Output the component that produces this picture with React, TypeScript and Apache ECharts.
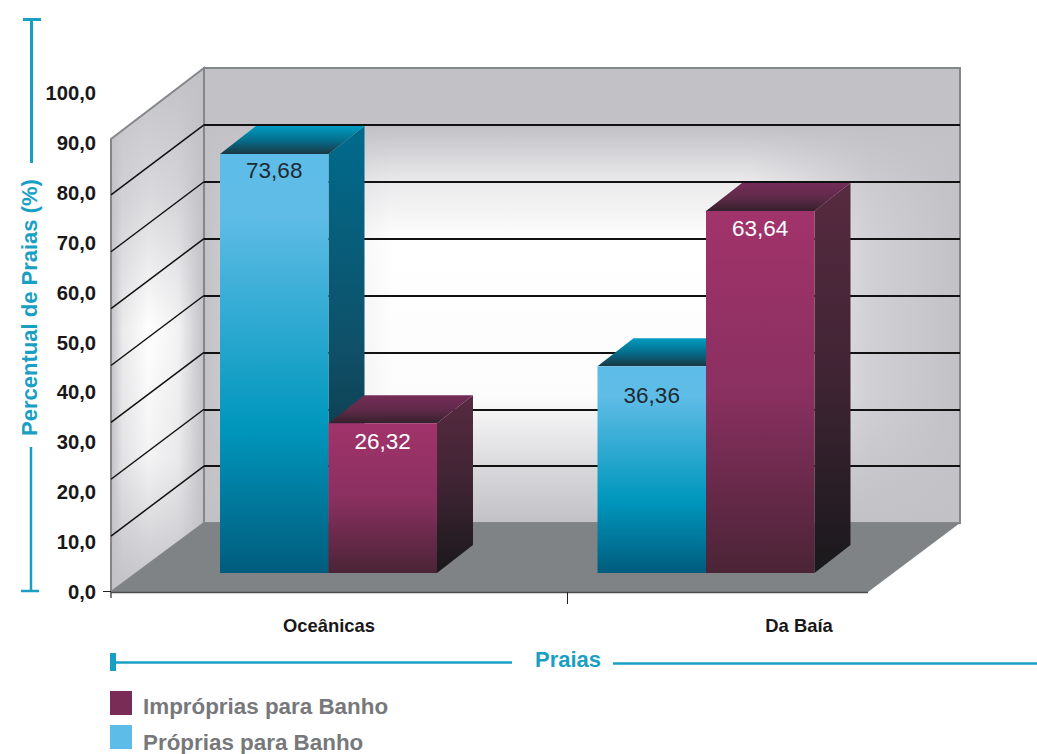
import React, { useEffect, useRef } from "react";
import * as echarts from "echarts";

const beachTypes = ["Oceânicas", "Da Baía"];
const properValues = [73.68, 36.36];
const improperValues = [26.32, 63.64];
const improperName = "Impróprias para Banho";
const properName = "Próprias para Banho";
const axisTitle = "Percentual de Praias (%)";
const xTitle = "Praias";
const wallTicks = [10, 20, 30, 40, 50, 60, 70];

const W = 1037, H = 754;
const CY = "#1a9fc4";
const DX = 36, DY = 28;
const WALL_DX = 93, WALL_DY = 70;
const FONT = "'Liberation Sans', Arial, sans-serif";

const lin = (x: number, y: number, x2: number, y2: number, stops: [number, string][]) => ({
  type: "linear", x, y, x2, y2, global: false,
  colorStops: stops.map(([offset, color]) => ({ offset, color })),
});
const V = (s: [number, string][]) => lin(0, 0, 0, 1, s);
const Hz = (s: [number, string][]) => lin(0, 0, 1, 0, s);

const bar3d = (values: number[], side: number, pal: any, labelColor: string, labelDrop: number[]) =>
  (params: any, api: any) => {
    const i = api.value(0);
    const v = api.value(1);
    const [cx, top] = api.coord([i, v]);
    const [, bottom] = api.coord([i, 0]);
    const w = api.size([1, 0])[0] * 0.2874;
    const x0 = side < 0 ? cx - w : cx;
    const x1 = x0 + w;
    return {
      type: "group",
      children: [
        { type: "polygon", shape: { points: [[x1, top], [x1 + DX, top - DY], [x1 + DX, bottom - DY], [x1, bottom]] }, style: { fill: pal.side } },
        { type: "polygon", shape: { points: [[x0, top], [x0 + DX, top - DY], [x1 + DX, top - DY], [x1, top]] }, style: { fill: pal.top } },
        { type: "rect", shape: { x: x0, y: top, width: w, height: bottom - top }, style: { fill: pal.front } },
        {
          type: "text",
          style: {
            text: values[i].toFixed(2).replace(".", ","),
            x: (x0 + x1) / 2, y: top + labelDrop[i],
            align: "center", verticalAlign: "middle",
            fill: labelColor, font: `22.5px ${FONT}`,
          },
        },
      ],
    };
  };

const bluePal = {
  front: V([[0, "#5ebde8"], [0.15, "#5ebce6"], [0.65, "#0097bd"], [1, "#005c7d"]]),
  side: V([[0, "#006b8d"], [0.5, "#0f5068"], [1, "#0c2630"]]),
  top: V([[0, "#009cc2"], [0.55, "#066a88"], [1, "#1a3843"]]),
};
const purplePal = {
  front: V([[0, "#a1336b"], [0.5, "#8a3060"], [1, "#4a2436"]]),
  side: V([[0, "#572a40"], [0.5, "#3f2434"], [1, "#19191b"]]),
  top: V([[0, "#742c58"], [0.55, "#5e2a48"], [1, "#35202b"]]),
};

const wallGray = (a: number) => `rgba(194,193,198,${a})`;
const legendText = { color: "#77787b", fontWeight: "bold", fontSize: 22.4, fontFamily: FONT };

export default function App() {
  const ref = useRef<HTMLDivElement>(null);
  useEffect(() => {
    const chart = echarts.init(ref.current!, null, { renderer: "svg" });
    const line = (x1: number, y1: number, x2: number, y2: number, stroke: string, lineWidth: number) => ({
      type: "line", shape: { x1, y1, x2, y2 }, style: { stroke, lineWidth }, z: 1, silent: true,
    });
    const leftWall = [[111, 139], [204, 68], [204, 523], [111, 592]];
    const floor = [[111, 592], [204, 523], [960, 523], [868, 592]];
    chart.setOption({
      animation: false,
      backgroundColor: "#fff",
      textStyle: { fontFamily: FONT },
      tooltip: { show: false },
      legend: {
        left: 110, top: 691, height: 150, orient: "vertical", itemWidth: 22, itemHeight: 24, itemGap: 8,
        icon: "rect", selectedMode: false,
        data: [improperName, properName],
        formatter: (n: string) => (n === improperName ? `{a|${n}}` : `{b|${n}}`),
        textStyle: {
          ...legendText,
          rich: {
            a: { ...legendText, padding: [6, 0, 0, 6] },
            b: { ...legendText, padding: [10, 0, 0, 6] },
          },
        },
        itemStyle: { borderWidth: 0 },
        padding: 0,
      },
      grid: [
        { left: 111, width: 757, top: 93, height: 499 },
        { left: 94, width: 940, top: 92, height: 500 },
        { left: 139.75, width: 755, top: 118, height: 455 },
        { left: 204, width: 756, top: 68, height: 455 },
      ],
      xAxis: [
        { gridIndex: 0, type: "value", show: false },
        {
          gridIndex: 1, type: "category", data: beachTypes,
          axisLine: { show: false }, axisTick: { show: false },
          axisLabel: { margin: 24, color: "#1a1718", fontWeight: "bold", fontSize: 18.4, fontFamily: FONT },
          name: xTitle, nameLocation: "middle", nameGap: 56,
          nameTextStyle: { color: CY, fontWeight: "bold", fontSize: 22, fontFamily: FONT, padding: [0, 0, 0, 8] },
        },
        { gridIndex: 2, type: "category", data: beachTypes, show: false },
        { gridIndex: 3, type: "value", min: 0, max: 1, show: false },
      ],
      yAxis: [
        {
          gridIndex: 0, type: "value", min: 0, max: 100, interval: 10,
          axisLine: { show: false }, axisTick: { show: false }, splitLine: { show: false },
          axisLabel: {
            margin: 15, color: "#1a1718", fontWeight: "bold", fontSize: 20.2, fontFamily: FONT,
            formatter: (v: number) => v.toFixed(1).replace(".", ","),
          },
          name: axisTitle, nameLocation: "middle", nameGap: 71, nameRotate: 90, nameMoveOverlap: false,
          nameTextStyle: { color: CY, fontWeight: "bold", fontSize: 22, fontFamily: FONT, padding: [0, 0, 0, 70] },
        },
        { gridIndex: 1, type: "value", show: false },
        { gridIndex: 2, type: "value", min: 0, max: 80, interval: 10, show: false },
        {
          gridIndex: 3, type: "value", min: 0, max: 80, interval: 10, z: 2,
          axisLine: { show: false }, axisTick: { show: false }, axisLabel: { show: false },
          splitLine: { show: true, showMinLine: false, showMaxLine: false, lineStyle: { color: "#111", width: 2 } },
        },
      ],
      graphic: [
        { type: "rect", z: -5, shape: { x: 204, y: 68, width: 756, height: 455 }, style: { fill: "#fff" }, silent: true },
        {
          type: "rect", z: -4, shape: { x: 204, y: 68, width: 756, height: 455 }, silent: true,
          style: { fill: Hz([[0, wallGray(1)], [0.08, wallGray(0.55)], [0.25, wallGray(0)], [0.72, wallGray(0)], [0.88, wallGray(0.75)], [1, wallGray(1)]]) },
        },
        {
          type: "rect", z: -4, shape: { x: 204, y: 68, width: 756, height: 455 }, silent: true,
          style: { fill: V([[0, wallGray(1)], [0.13, wallGray(1)], [0.25, wallGray(0.35)], [0.38, wallGray(0)], [0.72, wallGray(0.05)], [0.9, wallGray(0.7)], [1, wallGray(1)]]) },
        },
        {
          type: "rect", z: -3, shape: { x: 204, y: 68, width: 756, height: 455 }, silent: true,
          style: { fill: "none", stroke: "#84878a", lineWidth: 2 },
        },
        { type: "polygon", z: -5, shape: { points: leftWall }, silent: true, style: { fill: "#fff" } },
        {
          type: "polygon", z: -4, shape: { points: leftWall }, silent: true,
          style: { fill: Hz([[0, wallGray(1)], [0.12, wallGray(0.35)], [0.4, wallGray(0)], [0.72, wallGray(0.2)], [1, wallGray(1)]]) },
        },
        {
          type: "polygon", z: -4, shape: { points: leftWall }, silent: true,
          style: { fill: V([[0, wallGray(1)], [0.25, wallGray(0.6)], [0.5, wallGray(0)], [0.75, wallGray(0.2)], [1, wallGray(1)]]) },
        },
        {
          type: "polygon", z: -3, shape: { points: leftWall }, silent: true,
          style: { fill: "none", stroke: "#84878a", lineWidth: 2 },
        },
        { type: "polygon", z: -2, shape: { points: floor }, silent: true, style: { fill: "#7f8386" } },
        line(111, 592.5, 868, 592.5, "#4a4c4e", 1.5),
        line(111, 592, 111, 598, "#555", 1.5),
        line(567.5, 592, 567.5, 604, "#222", 1),
        line(103, 591.5, 111, 591.5, "#222", 1),
        line(31.5, 19, 31.5, 163, CY, 3),
        line(23, 19.5, 41, 19.5, CY, 3),
        line(31, 447, 31, 591, CY, 2.5),
        line(21, 591, 39, 591, CY, 2.5),
        line(116, 662.5, 512, 662.5, CY, 2.5),
        line(613, 663.5, 1037, 663.5, CY, 2.5),
        { type: "rect", z: 1, shape: { x: 110, y: 653, width: 6, height: 18 }, style: { fill: CY }, silent: true },
      ],
      series: [
        {
          type: "custom", name: "wall", xAxisIndex: 3, yAxisIndex: 3, z: 2, silent: true,
          data: wallTicks.map((t) => [0, t]),
          renderItem: (p: any, api: any) => {
            const [x, y] = api.coord([0, api.value(1)]);
            return {
              type: "line",
              shape: { x1: x, y1: y, x2: x - WALL_DX, y2: y + WALL_DY },
              style: { stroke: "#111", lineWidth: 1.5 },
            };
          },
        },
        {
          type: "custom", name: properName, xAxisIndex: 2, yAxisIndex: 2, z: 4, silent: true,
          itemStyle: { color: "#5ebce8" },
          data: properValues.map((v, i) => [i, v]),
          renderItem: bar3d(properValues, -1, bluePal, "#1d2a33", [17, 29]),
        },
        {
          type: "custom", name: improperName, xAxisIndex: 2, yAxisIndex: 2, z: 5, silent: true,
          itemStyle: { color: "#792c56" },
          data: improperValues.map((v, i) => [i, v]),
          renderItem: bar3d(improperValues, 1, purplePal, "#fff", [18, 17]),
        },
      ],
    });
    return () => chart.dispose();
  }, []);
  return <div ref={ref} style={{ position: "absolute", left: 0, top: 0, width: W, height: H }} />;
}
